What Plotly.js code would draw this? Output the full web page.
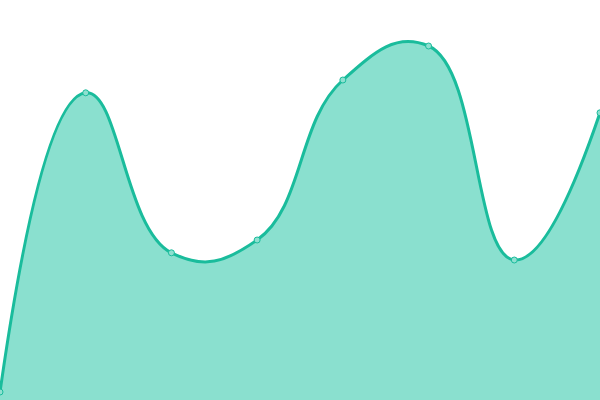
<!DOCTYPE html>
<html><head><meta charset="utf-8">
<script src="https://cdn.plot.ly/plotly-3.0.1.min.js"></script>
<style>html,body{margin:0;padding:0;background:#fff}#chart{width:600px;height:400px}</style>
</head><body><div id="chart"></div>
<script>
var xValues = [0, 1, 2, 3, 4, 5, 6, 7];
var yValues = [2, 76.8, 36.8, 40, 80, 88.5, 35, 71.8];

Plotly.newPlot('chart', [{
  x: xValues, y: yValues, type: 'scatter', mode: 'lines+markers',
  fill: 'tozeroy', fillcolor: '#8ae0cf',
  line: {color: '#1abc9c', width: 3, shape: 'spline', smoothing: 1.3},
  marker: {size: 6, color: '#8ee0d0', line: {color: '#1abc9c', width: 1}},
  cliponaxis: false
}], {
  width: 600, height: 400,
  margin: {l: 0, r: 0, t: 0, b: 0},
  paper_bgcolor: '#fff', plot_bgcolor: '#fff',
  showlegend: false,
  xaxis: {visible: false, range: [0, 7]},
  yaxis: {visible: false, range: [0, 100]}
}, {displayModeBar: false, staticPlot: true});
</script></body></html>
